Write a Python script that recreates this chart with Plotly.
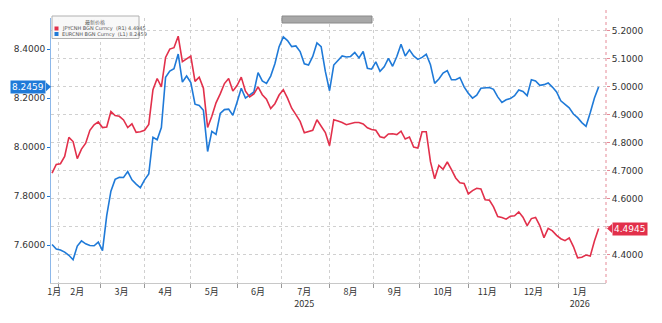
import pandas as pd
import plotly.graph_objects as go

# ---------------- data (every 2nd trading day, from 2025-01-29) ----------------
start_date = "2025-01-29"
n_points = 131

eurcnh = [7.602, 7.584, 7.580, 7.571, 7.558, 7.540, 7.596, 7.617, 7.605, 7.598,
          7.597, 7.612, 7.577, 7.720, 7.820, 7.868, 7.877, 7.876, 7.900, 7.866,
          7.849, 7.834, 7.866, 7.890, 8.040, 8.030, 8.080, 8.285, 8.310, 8.320,
          8.380, 8.265, 8.290, 8.263, 8.175, 8.170, 8.150, 7.982, 8.064, 8.052,
          8.137, 8.153, 8.155, 8.130, 8.183, 8.240, 8.200, 8.212, 8.225, 8.304,
          8.270, 8.260, 8.290, 8.340, 8.410, 8.450, 8.435, 8.410, 8.413, 8.390,
          8.340, 8.335, 8.370, 8.425, 8.410, 8.309, 8.230, 8.335, 8.355, 8.372,
          8.368, 8.370, 8.386, 8.364, 8.390, 8.322, 8.318, 8.348, 8.309, 8.328,
          8.362, 8.330, 8.370, 8.420, 8.372, 8.397, 8.372, 8.358, 8.366, 8.379,
          8.336, 8.260, 8.278, 8.302, 8.312, 8.275, 8.275, 8.284, 8.246, 8.220,
          8.200, 8.212, 8.240, 8.242, 8.243, 8.236, 8.205, 8.182, 8.193, 8.198,
          8.210, 8.233, 8.227, 8.210, 8.275, 8.270, 8.252, 8.255, 8.262, 8.245,
          8.225, 8.189, 8.175, 8.160, 8.135, 8.120, 8.100, 8.085, 8.140, 8.200,
          8.2459]

jpycnh = [4.692, 4.723, 4.726, 4.752, 4.820, 4.805, 4.744, 4.778, 4.799, 4.845,
          4.865, 4.875, 4.855, 4.857, 4.912, 4.898, 4.895, 4.882, 4.855, 4.868,
          4.838, 4.840, 4.845, 4.866, 4.990, 5.030, 5.000, 5.105, 5.135, 5.140,
          5.181, 5.090, 5.100, 5.110, 5.020, 5.035, 4.995, 4.855, 4.895, 4.943,
          4.975, 5.012, 5.030, 4.985, 5.005, 5.035, 4.985, 4.964, 4.975, 5.000,
          4.972, 4.956, 4.923, 4.940, 4.971, 4.990, 4.960, 4.924, 4.901, 4.877,
          4.836, 4.841, 4.845, 4.883, 4.860, 4.837, 4.790, 4.883, 4.878, 4.873,
          4.865, 4.868, 4.873, 4.873, 4.868, 4.854, 4.848, 4.845, 4.822, 4.818,
          4.832, 4.833, 4.830, 4.842, 4.814, 4.821, 4.785, 4.782, 4.840, 4.840,
          4.733, 4.672, 4.720, 4.706, 4.732, 4.705, 4.675, 4.658, 4.655, 4.618,
          4.630, 4.638, 4.636, 4.597, 4.596, 4.572, 4.537, 4.534, 4.528, 4.538,
          4.540, 4.554, 4.535, 4.505, 4.530, 4.534, 4.505, 4.462, 4.495, 4.486,
          4.470, 4.458, 4.451, 4.461, 4.430, 4.390, 4.392, 4.400, 4.396, 4.450,
          4.4945]

month_label_dates = ["2025-01-30", "2025-02-14", "2025-03-17", "2025-04-15", "2025-05-15",
                     "2025-06-16", "2025-07-16", "2025-08-15", "2025-09-15", "2025-10-16",
                     "2025-11-14", "2025-12-16", "2026-01-15"]
month_labels = ["1月", "2月", "3月", "4月", "5月", "6月", "7月<br>2025", "8月", "9月",
                "10月", "11月", "12月", "1月<br>2026"]
month_starts = ["2025-02-03", "2025-03-03", "2025-04-01", "2025-05-01", "2025-06-02",
                "2025-07-01", "2025-08-01", "2025-09-01", "2025-10-01", "2025-11-03",
                "2025-12-01", "2026-01-01"]

left_ticks = [7.6, 7.8, 8.0, 8.2, 8.4]
right_ticks = [4.4, 4.5, 4.6, 4.7, 4.8, 4.9, 5.0, 5.1, 5.2]
# 4.5000 label is hidden behind the last-value tag in the reference
right_ticktext = ["4.4000", "", "4.6000", "4.7000", "4.8000", "4.9000", "5.0000", "5.1000", "5.2000"]

legend_title = "最新价格"
name_jpy = "JPYCNH BGN Curncy  (R1) 4.4945"
name_eur = "EURCNH BGN Curncy  (L1) 8.2459"
last_eur = "8.2459"
last_jpy = "4.4945"

dates = pd.bdate_range(start=start_date, periods=2 * n_points - 1)[::2]

RED = "#e2304b"
BLUE = "#1f7ad8"
FONT = "DejaVu Sans"

# pixel helpers for decorations (plot area: x 51..606, y 18..283)
def px(x):
    return (x - 51) / 555.0

def py(y):
    return (283 - y) / 265.0

fig = go.Figure()
fig.add_trace(go.Scatter(x=dates, y=eurcnh, mode="lines", name=name_eur,
                         line=dict(color=BLUE, width=1.6), yaxis="y"))
fig.add_trace(go.Scatter(x=dates, y=jpycnh, mode="lines", name=name_jpy,
                         line=dict(color=RED, width=1.6), yaxis="y2"))

fig.update_layout(
    width=662, height=323,
    margin=dict(l=51, r=56, t=18, b=40),
    paper_bgcolor="white", plot_bgcolor="white",
    showlegend=False,
    font=dict(family=FONT, size=9, color="#333333"),
    xaxis=dict(
        type="date",
        range=["2025-01-28 12:00", "2026-02-02 12:00"],
        rangebreaks=[dict(bounds=["sat", "mon"])],
        tickmode="array", tickvals=month_label_dates, ticktext=month_labels,
        ticks="", showgrid=False, zeroline=False,
        showline=True, linecolor="#c8c8c8", linewidth=1,
        tickfont=dict(family="Noto Sans CJK SC", size=9, color="#333333"),
        minor=dict(tickmode="array", tickvals=month_starts, ticks="outside",
                   ticklen=4, tickcolor="#999999", showgrid=True,
                   gridcolor="#d0d0d0", griddash="dot", gridwidth=1),
    ),
    yaxis=dict(
        range=[7.445, 8.527], tickmode="array", tickvals=left_ticks,
        tickformat=".4f", ticks="outside", ticklen=3, tickcolor=BLUE,
        showgrid=False, zeroline=False, showline=True, linecolor="#8db8ea",
        linewidth=1, tickfont=dict(size=9, color="#333333"),
    ),
    yaxis2=dict(
        range=[4.3, 5.246], overlaying="y", side="right", tickmode="array",
        tickvals=right_ticks, ticktext=right_ticktext, ticks="outside", ticklen=3,
        tickcolor="#e58a97", showgrid=True, gridcolor="#d0d0d0", griddash="dot",
        gridwidth=1, zeroline=False, showline=False,
        tickfont=dict(size=9, color="#333333"),
    ),
)

shapes = []
# right axis dotted red line
shapes.append(dict(type="line", xref="paper", yref="paper", x0=1, x1=1, y0=0, y1=py(8),
                   line=dict(color="#e58a97", width=1, dash="dot")))
# toolbar
shapes.append(dict(type="rect", xref="paper", yref="paper", x0=px(282), x1=px(372),
                   y0=py(23), y1=py(16), fillcolor="#a8a8a8", line=dict(color="#8a8a8a", width=1)))
# legend box
shapes.append(dict(type="rect", xref="paper", yref="paper", x0=px(52), x1=px(139),
                   y0=py(38.5), y1=py(16), fillcolor="rgba(248,248,248,0.95)",
                   line=dict(color="#b0b0b0", width=1)))
shapes.append(dict(type="rect", xref="paper", yref="paper", x0=px(54.5), x1=px(58.5),
                   y0=py(30.5), y1=py(26.5), fillcolor=RED, line=dict(width=0)))
shapes.append(dict(type="rect", xref="paper", yref="paper", x0=px(54.5), x1=px(58.5),
                   y0=py(36), y1=py(32), fillcolor=BLUE, line=dict(width=0)))
# value tag arrows
shapes.append(dict(type="path", xref="paper", yref="y",
                   path=f"M {px(46)},{8.2459 + 0.018} L {px(51)},{8.2459} L {px(46)},{8.2459 - 0.018} Z",
                   fillcolor=BLUE, line=dict(width=0)))
shapes.append(dict(type="path", xref="paper", yref="y2",
                   path=f"M {px(612)},{4.4945 + 0.016} L {px(607)},{4.4945} L {px(612)},{4.4945 - 0.016} Z",
                   fillcolor=RED, line=dict(width=0)))
fig.update_layout(shapes=shapes)

ann = []
ann.append(dict(xref="paper", yref="paper", x=px(95), y=py(21.5), text=legend_title,
                showarrow=False, font=dict(family="Noto Sans CJK SC", size=5, color="#666666"),
                xanchor="center", yanchor="middle"))
ann.append(dict(xref="paper", yref="paper", x=px(60), y=py(28.5), text=name_jpy,
                showarrow=False, font=dict(family=FONT, size=5, color="#555555"),
                xanchor="left", yanchor="middle"))
ann.append(dict(xref="paper", yref="paper", x=px(60), y=py(34), text=name_eur,
                showarrow=False, font=dict(family=FONT, size=5, color="#555555"),
                xanchor="left", yanchor="middle"))
ann.append(dict(xref="paper", yref="y", x=px(46), y=8.2459, text=last_eur,
                showarrow=False, bgcolor=BLUE, borderpad=1,
                font=dict(family=FONT, size=9, color="white"),
                xanchor="right", yanchor="middle"))
ann.append(dict(xref="paper", yref="y2", x=px(612), y=4.4945, text=last_jpy,
                showarrow=False, bgcolor=RED, borderpad=1,
                font=dict(family=FONT, size=9, color="white"),
                xanchor="left", yanchor="middle"))
fig.update_layout(annotations=ann)

fig.write_html("out.html")
